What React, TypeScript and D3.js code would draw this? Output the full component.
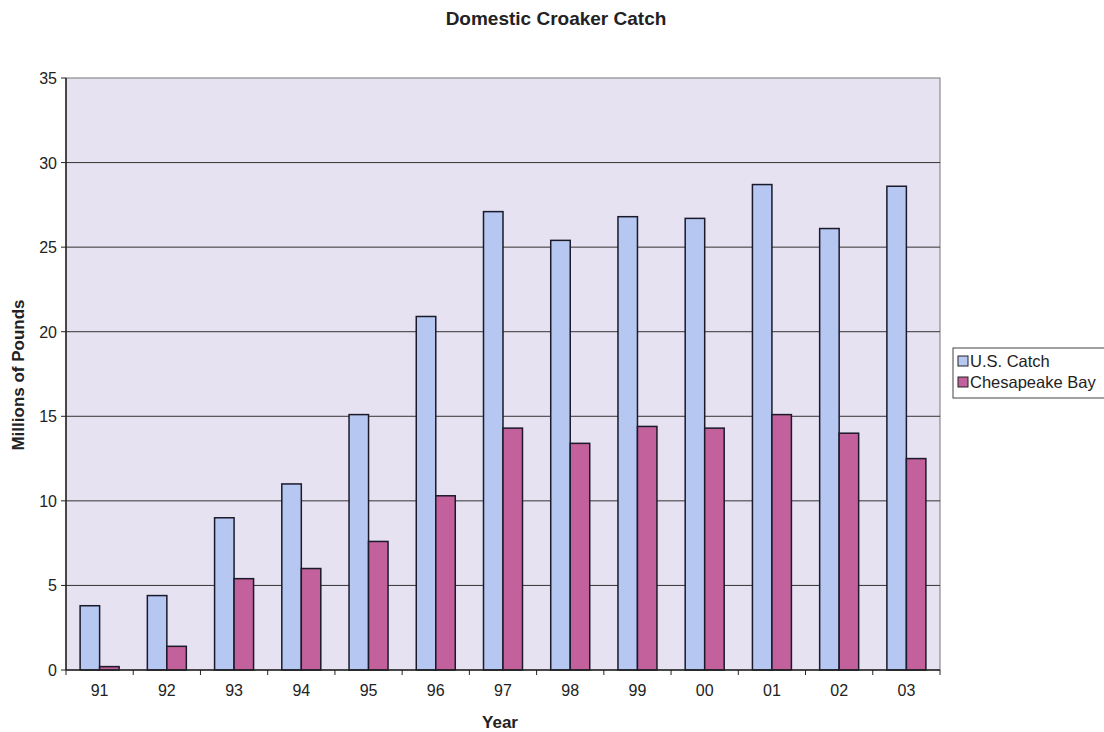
import React from "react";
import * as d3 from "d3";

const years = ["91", "92", "93", "94", "95", "96", "97", "98", "99", "00", "01", "02", "03"];
const usCatch = [3.8, 4.4, 9.0, 11.0, 15.1, 20.9, 27.1, 25.4, 26.8, 26.7, 28.7, 26.1, 28.6];
const chesapeake = [0.2, 1.4, 5.4, 6.0, 7.6, 10.3, 14.3, 13.4, 14.4, 14.3, 15.1, 14.0, 12.5];
const yTicks = [0, 5, 10, 15, 20, 25, 30, 35];
const seriesNames = ["U.S. Catch", "Chesapeake Bay"];
const seriesColors = ["#b6c8f2", "#c2619b"];

export default function App() {
  const W = 1104, H = 732;
  const left = 66, right = 940, top = 78, bottom = 670;
  const x = d3.scaleBand<string>().domain(years).range([left, right]).paddingInner(0.42).paddingOuter(0.21);
  const y = d3.scaleLinear().domain([0, 35]).range([bottom, top]);
  const sub = d3.scaleBand<number>().domain([0, 1]).range([0, x.bandwidth()]);
  const step = x.step();
  const font = "Arial, 'Liberation Sans', sans-serif";
  const series = [usCatch, chesapeake];

  return (
    <svg width={W} height={H} style={{ position: "absolute", left: 0, top: 0, background: "#fff" }} fontFamily={font}>
      <text x={556} y={25} textAnchor="middle" fontSize={19} fontWeight="bold" fill="#222">Domestic Croaker Catch</text>
      <rect x={left} y={top} width={right - left} height={bottom - top} fill="#e6e2f1" stroke="#777" strokeWidth={1} />
      {yTicks.slice(1, -1).map((t) => (
        <line key={t} x1={left} x2={right} y1={y(t)} y2={y(t)} stroke="#333" strokeWidth={1} />
      ))}
      {series.map((vals, si) =>
        vals.map((v, i) => (
          <rect key={si + "-" + i} x={(x(years[i]) as number) + (sub(si) as number)} y={y(v)} width={sub.bandwidth()} height={bottom - y(v)}
            fill={seriesColors[si]} stroke="#1a1a2a" strokeWidth={1.5} />
        ))
      )}
      <line x1={left} x2={left} y1={top} y2={bottom} stroke="#222" strokeWidth={1.5} />
      <line x1={left} x2={right} y1={bottom} y2={bottom} stroke="#222" strokeWidth={1.5} />
      {yTicks.map((t) => (
        <g key={t}>
          <line x1={left - 5} x2={left} y1={y(t)} y2={y(t)} stroke="#222" />
          <text x={left - 9} y={y(t) + 6} textAnchor="end" fontSize={16} fill="#222">{t}</text>
        </g>
      ))}
      {years.map((yr, i) => (
        <g key={yr}>
          <line x1={left + step * i} x2={left + step * i} y1={bottom} y2={bottom + 5} stroke="#222" />
          <text x={(x(yr) as number) + x.bandwidth() / 2} y={bottom + 26} textAnchor="middle" fontSize={16} fill="#222">{yr}</text>
        </g>
      ))}
      <line x1={right} x2={right} y1={bottom} y2={bottom + 5} stroke="#222" />
      <text x={500} y={728} textAnchor="middle" fontSize={17} fontWeight="bold" fill="#222">Year</text>
      <text transform={`translate(24,${375}) rotate(-90)`} textAnchor="middle" fontSize={17} fontWeight="bold" fill="#222">Millions of Pounds</text>
      <rect x={953} y={348} width={160} height={50} fill="#fff" stroke="#444" strokeWidth={1} />
      {seriesNames.map((n, i) => (
        <g key={n}>
          <rect x={958} y={356 + i * 21} width={10} height={10} fill={seriesColors[i]} stroke="#222" />
          <text x={970} y={367 + i * 21} fontSize={16.5} fill="#222">{n}</text>
        </g>
      ))}
    </svg>
  );
}
